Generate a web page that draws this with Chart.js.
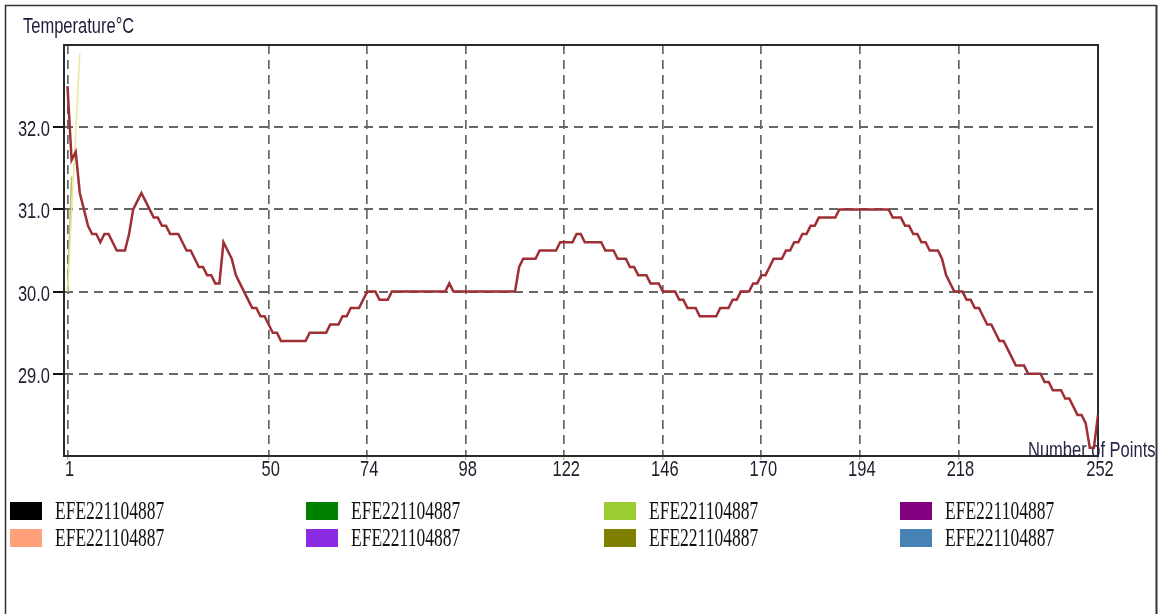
<!DOCTYPE html>
<html>
<head>
<meta charset="utf-8">
<title>Temperature</title>
<script src="https://cdn.jsdelivr.net/npm/chart.js@4.4.1/dist/chart.umd.min.js"></script>
<style>
  html, body { margin: 0; padding: 0; background: #ffffff; }
  #wrap { position: relative; width: 1160px; height: 614px; }
</style>
</head>
<body>
<div id="wrap"><canvas id="chart"></canvas></div>
<script>
// Logged temperature (°C), one reading per point 1..252
const temperatures = [
  32.5, 31.6, 31.7, 31.2, 31.0, 30.8, 30.7, 30.7, 30.6, 30.7,
  30.7, 30.6, 30.5, 30.5, 30.5, 30.7, 31.0, 31.1, 31.2, 31.1,
  31.0, 30.9, 30.9, 30.8, 30.8, 30.7, 30.7, 30.7, 30.6, 30.5,
  30.5, 30.4, 30.3, 30.3, 30.2, 30.2, 30.1, 30.1, 30.6, 30.5,
  30.4, 30.2, 30.1, 30.0, 29.9, 29.8, 29.8, 29.7, 29.7, 29.6,
  29.5, 29.5, 29.4, 29.4, 29.4, 29.4, 29.4, 29.4, 29.4, 29.5,
  29.5, 29.5, 29.5, 29.5, 29.6, 29.6, 29.6, 29.7, 29.7, 29.8,
  29.8, 29.8, 29.9, 30.0, 30.0, 30.0, 29.9, 29.9, 29.9, 30.0,
  30.0, 30.0, 30.0, 30.0, 30.0, 30.0, 30.0, 30.0, 30.0, 30.0,
  30.0, 30.0, 30.0, 30.1, 30.0, 30.0, 30.0, 30.0, 30.0, 30.0,
  30.0, 30.0, 30.0, 30.0, 30.0, 30.0, 30.0, 30.0, 30.0, 30.0,
  30.3, 30.4, 30.4, 30.4, 30.4, 30.5, 30.5, 30.5, 30.5, 30.5,
  30.6, 30.6, 30.6, 30.6, 30.7, 30.7, 30.6, 30.6, 30.6, 30.6,
  30.6, 30.5, 30.5, 30.5, 30.4, 30.4, 30.4, 30.3, 30.3, 30.2,
  30.2, 30.2, 30.1, 30.1, 30.1, 30.0, 30.0, 30.0, 30.0, 29.9,
  29.9, 29.8, 29.8, 29.8, 29.7, 29.7, 29.7, 29.7, 29.7, 29.8,
  29.8, 29.8, 29.9, 29.9, 30.0, 30.0, 30.0, 30.1, 30.1, 30.2,
  30.2, 30.3, 30.4, 30.4, 30.4, 30.5, 30.5, 30.6, 30.6, 30.7,
  30.7, 30.8, 30.8, 30.9, 30.9, 30.9, 30.9, 30.9, 31.0, 31.0,
  31.0, 31.0, 31.0, 31.0, 31.0, 31.0, 31.0, 31.0, 31.0, 31.0,
  31.0, 30.9, 30.9, 30.9, 30.8, 30.8, 30.7, 30.7, 30.6, 30.6,
  30.5, 30.5, 30.5, 30.4, 30.2, 30.1, 30.0, 30.0, 30.0, 29.9,
  29.9, 29.8, 29.8, 29.7, 29.6, 29.6, 29.5, 29.4, 29.4, 29.3,
  29.2, 29.1, 29.1, 29.1, 29.0, 29.0, 29.0, 29.0, 28.9, 28.9,
  28.8, 28.8, 28.8, 28.7, 28.7, 28.6, 28.5, 28.5, 28.4, 28.1,
  28.1, 28.5
];

// Two short start-up traces at the left edge
const paleTraceX = [1, 4];
const paleTraceY = [30.0, 32.9];
const greenTraceX = [1, 2];
const greenTraceY = [30.0, 31.4];

// Axis ticks
const xTickValues = [1, 50, 74, 98, 122, 146, 170, 194, 218, 252];
const yTickValues = [29, 30, 31, 32];

// Legend entries
const legendLabels = [
  'EFE221104887', 'EFE221104887', 'EFE221104887', 'EFE221104887',
  'EFE221104887', 'EFE221104887', 'EFE221104887', 'EFE221104887'
];
const legendColors = [
  '#000000', '#008000', '#9ACD32', '#800080',
  '#FFA07A', '#8A2BE2', '#808000', '#4682B4'
];

const SANS = '"Liberation Sans", Arial, sans-serif';
const SERIF = '"Liberation Serif", "Times New Roman", serif';

function toPoints(xs, ys) {
  return xs.map((x, i) => ({ x: x, y: ys[i] }));
}

// Lettering is tall and narrow: draw it with a vertical stretch
function stretchedText(ctx, text, x, y, font, color, sy, align) {
  ctx.save();
  ctx.translate(x, y);
  ctx.scale(1, sy);
  ctx.font = font;
  ctx.fillStyle = color;
  ctx.textAlign = align || 'left';
  ctx.textBaseline = 'alphabetic';
  ctx.fillText(text, 0, 0);
  ctx.restore();
}

const decorations = {
  id: 'decorations',
  beforeDatasetsDraw(chart) {
    const { ctx, chartArea: a } = chart;
    ctx.save();
    ctx.setLineDash([]);
    ctx.strokeStyle = '#2a2a2a';
    ctx.lineWidth = 2;
    ctx.strokeRect(a.left, a.top, a.right - a.left, a.bottom - a.top);
    ctx.restore();
    stretchedText(ctx, 'Number of Points', 1028, 457, '16.5px ' + SANS, '#262648', 1.3);
  },
  afterDraw(chart) {
    const ctx = chart.ctx;
    const xs = chart.scales.x, ys = chart.scales.y;

    // tick labels, placed from the scales' own tick positions
    xs.ticks.forEach(t => {
      const px = xs.getPixelForValue(t.value);
      stretchedText(ctx, String(t.value), px + 2, 476, '16.5px ' + SANS, '#1d1d2d', 1.38, 'center');
    });
    ys.ticks.forEach(t => {
      const py = ys.getPixelForValue(t.value);
      stretchedText(ctx, Number(t.value).toFixed(1), 50, py + 9, '16.5px ' + SANS, '#1d1d2d', 1.38, 'right');
    });

    // y-axis caption
    stretchedText(ctx, 'Temperature°C', 23, 33, '16.5px ' + SANS, '#1c1c3c', 1.32);

    // legend: two rows of four
    const colX = [10, 306, 604, 900];
    const rowY = [502, 529];
    legendLabels.forEach((label, i) => {
      const col = i % 4, row = Math.floor(i / 4);
      const x = colX[col], y = rowY[row];
      ctx.save();
      ctx.fillStyle = legendColors[i];
      ctx.fillRect(x, y, 32, 18);
      ctx.restore();
      stretchedText(ctx, label, x + 45, y + 17, '17.5px ' + SERIF, '#111111', 1.4);
    });

    // outer frame
    ctx.save();
    ctx.setLineDash([]);
    ctx.strokeStyle = '#333333';
    ctx.lineWidth = 1.5;
    ctx.beginPath();
    ctx.moveTo(5.5, 614);
    ctx.lineTo(5.5, 5.5);
    ctx.lineTo(1156.5, 5.5);
    ctx.stroke();
    ctx.lineWidth = 2;
    ctx.beginPath();
    ctx.moveTo(1156.5, 5);
    ctx.lineTo(1156.5, 614);
    ctx.stroke();
    ctx.restore();
  }
};

new Chart(document.getElementById('chart'), {
  type: 'line',
  data: {
    datasets: [
      {
        label: 'Temperature',
        data: temperatures.map((t, i) => ({ x: i + 1, y: t })),
        borderColor: '#9e2f34',
        borderWidth: 2.5,
        pointRadius: 0,
        tension: 0,
        order: 0
      },
      {
        label: 'start A',
        data: toPoints(paleTraceX, paleTraceY),
        borderColor: 'rgba(238, 226, 150, 0.9)',
        borderWidth: 1.5,
        pointRadius: 0,
        tension: 0,
        order: 1
      },
      {
        label: 'start B',
        data: toPoints(greenTraceX, greenTraceY),
        borderColor: 'rgba(168, 176, 92, 0.85)',
        borderWidth: 1.5,
        pointRadius: 0,
        tension: 0,
        order: 2
      }
    ]
  },
  options: {
    responsive: true,
    maintainAspectRatio: false,
    animation: false,
    events: [],
    layout: { padding: { left: 0, top: 45, right: 62, bottom: 128 } },
    plugins: {
      legend: { display: false },
      tooltip: { enabled: false },
      title: { display: false }
    },
    scales: {
      x: {
        type: 'linear',
        min: 0.15,
        max: 252,
        afterBuildTicks(scale) { scale.ticks = xTickValues.map(v => ({ value: v })); },
        afterFit(scale) { scale.height = 30; },
        border: { display: false, dash: [9, 6] },
        grid: {
          color: '#666666',
          lineWidth: 1.7,
          drawTicks: true,
          tickLength: 4,
          tickColor: '#9a9a9a',
          tickWidth: 1,
          tickBorderDash: []
        },
        ticks: { display: false, autoSkip: false, maxRotation: 0 }
      },
      y: {
        type: 'linear',
        min: 28,
        max: 33,
        afterBuildTicks(scale) { scale.ticks = yTickValues.map(v => ({ value: v })); },
        afterFit(scale) { scale.width = 64; },
        border: { display: false, dash: [9, 6] },
        grid: {
          color: '#666666',
          lineWidth: 2,
          drawTicks: true,
          tickLength: 11,
          tickColor: '#111111',
          tickWidth: 2,
          tickBorderDash: []
        },
        ticks: { display: false }
      }
    }
  },
  plugins: [decorations]
});
</script>
</body>
</html>
